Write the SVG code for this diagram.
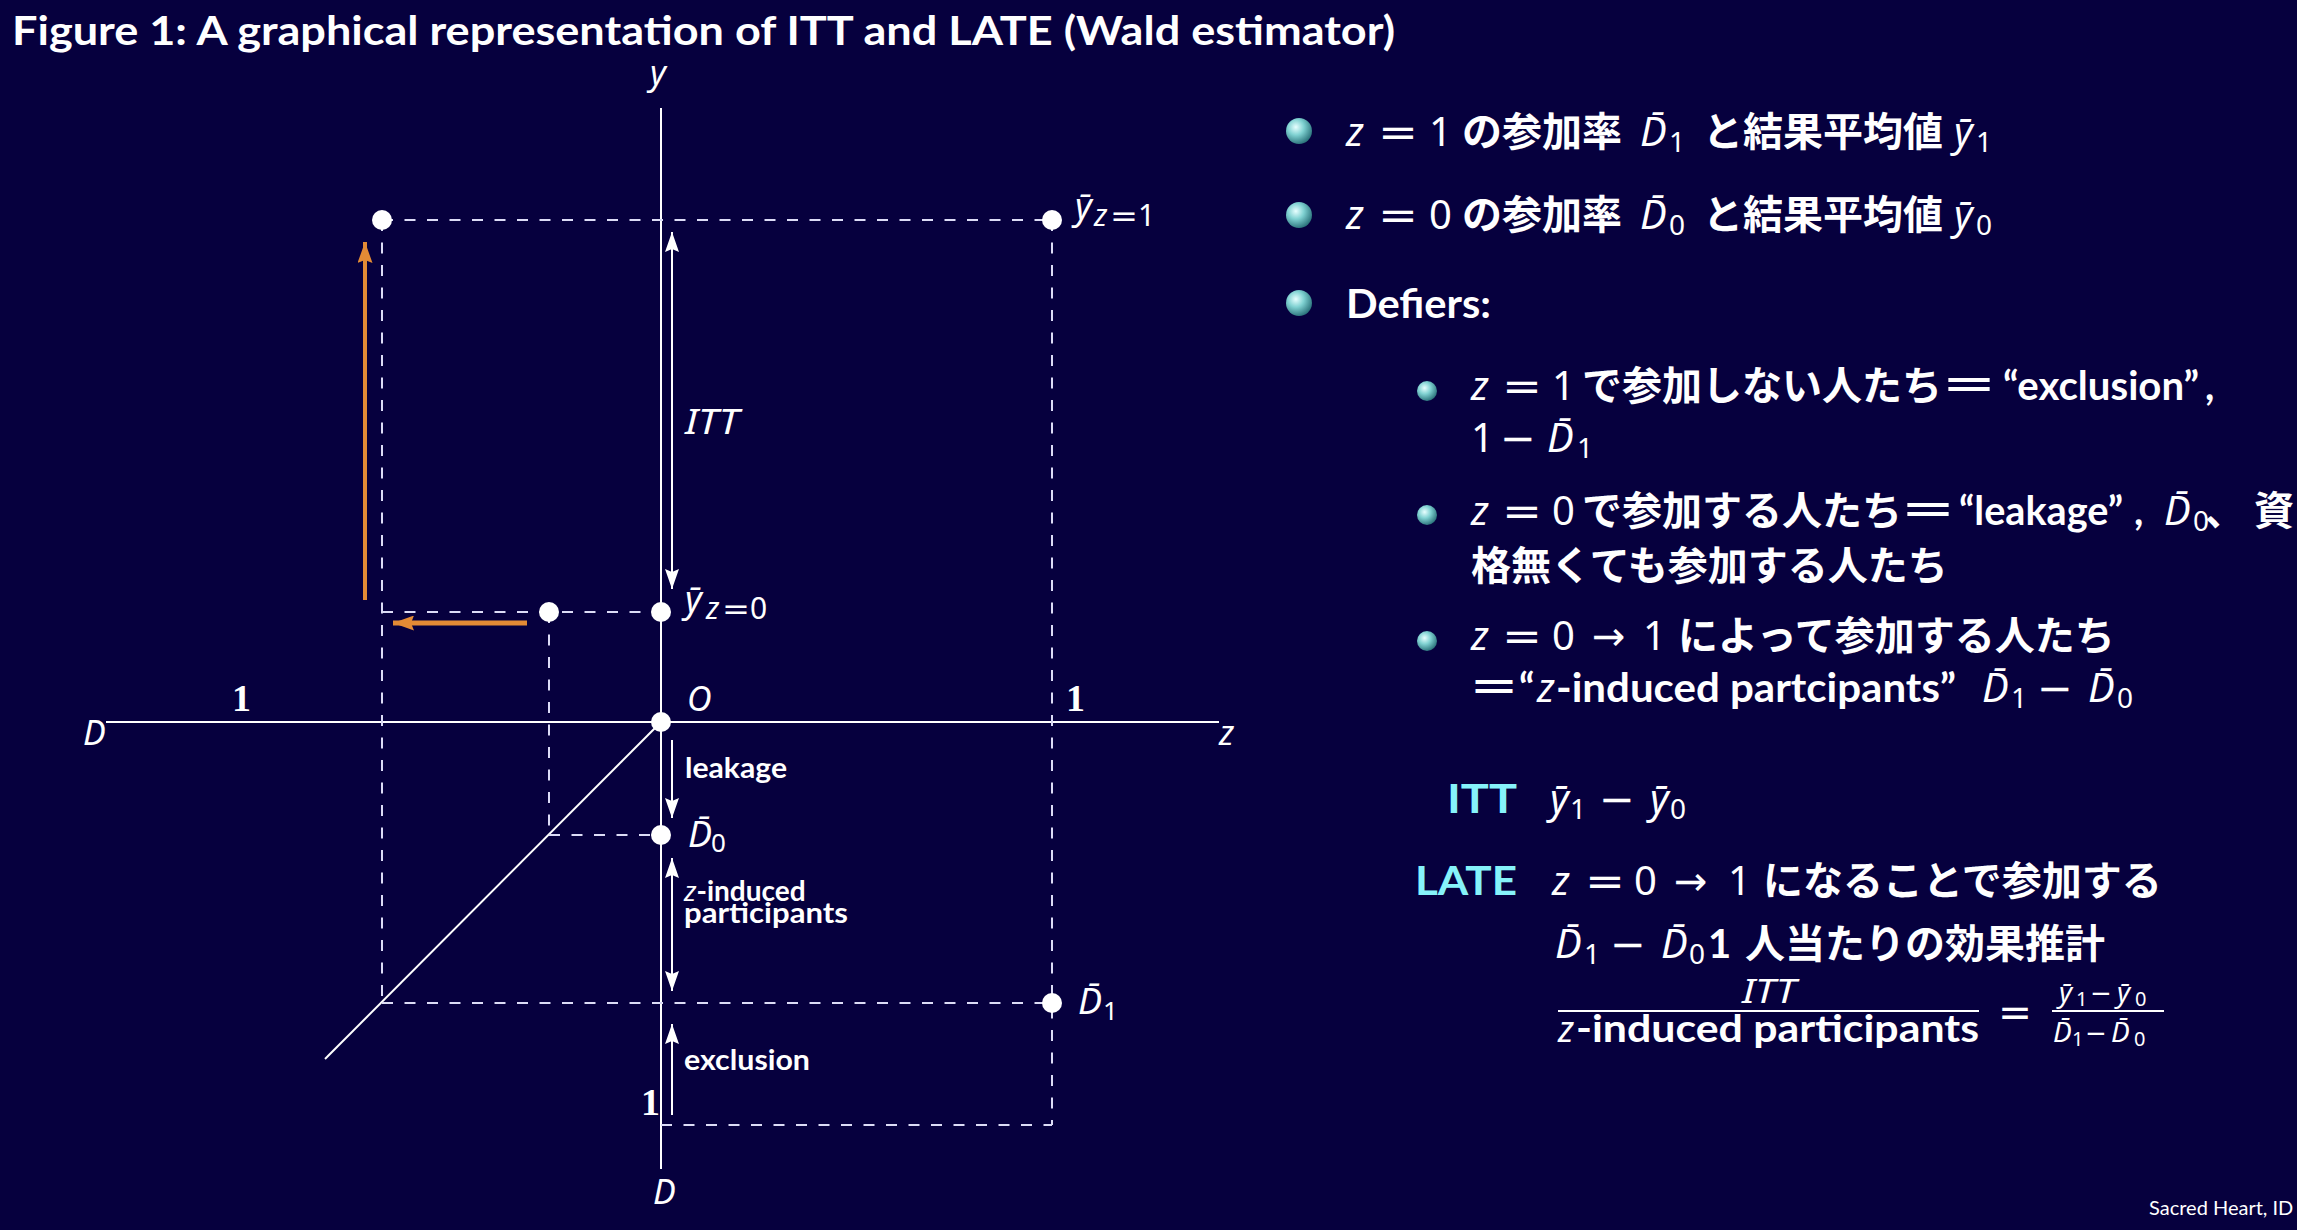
<svg xmlns="http://www.w3.org/2000/svg" width="2297" height="1230" viewBox="0 0 2297 1230">
<defs>
<radialGradient id="ball" cx="0.38" cy="0.35" r="0.68">
<stop offset="0" stop-color="#e8ffff"/>
<stop offset="0.45" stop-color="#80d2d2"/>
<stop offset="1" stop-color="#2a727a"/>
</radialGradient>
<marker id="ah" viewBox="0 0 20 14" refX="20" refY="7" markerWidth="20" markerHeight="14" markerUnits="userSpaceOnUse" orient="auto-start-reverse"><path d="M0,0 L20,7 L0,14 L3,7 z" fill="#fff"/></marker>
<marker id="oh" viewBox="0 0 21 15" refX="21" refY="7.5" markerWidth="21" markerHeight="15" markerUnits="userSpaceOnUse" orient="auto"><path d="M0,0 L21,7.5 L0,15 L3,7.5 z" fill="#e38b35"/></marker>
<style>
.ax{stroke:#fff;stroke-width:2;fill:none}
.dash{stroke:#dcdcf6;stroke-width:2;stroke-dasharray:11 11.5;fill:none}
.arr{stroke:#fff;stroke-width:2;fill:none}
.or{stroke:#e38b35;fill:none}
.dot{fill:#fff}
text{fill:#fff}
.mi{font-family:"Noto Sans","DejaVu Sans",sans-serif;font-style:italic}
.mr{font-family:"Noto Sans","DejaVu Sans",sans-serif}
.ar{font-family:"DejaVu Sans",sans-serif}
.b{font-family:Lato,"Liberation Sans",sans-serif;font-weight:700}
.rg{font-family:Lato,"Liberation Sans",sans-serif}
.j{font-family:"Noto Sans CJK JP",sans-serif;font-weight:700}
.one{font-family:"Liberation Serif",serif;font-weight:700}
.cy{fill:#86f3fa}
.t40{font-size:40px}
.s28{font-size:28px}
</style>
</defs>
<rect width="2297" height="1230" fill="#06003e"/>

<text id="title" class="b" x="12" y="45" font-size="41" textLength="1383" lengthAdjust="spacingAndGlyphs">Figure 1: A graphical representation of ITT and LATE (Wald estimator)</text>

<g id="axes">
<line class="ax" x1="661" y1="108" x2="661" y2="1169"/>
<line class="ax" x1="106" y1="722" x2="1219" y2="722"/>
<line class="ax" x1="661" y1="722" x2="325" y2="1059"/>
<text class="mi" x="650" y="85" font-size="34">y</text>
<text class="mi" x="83" y="745" font-size="34">D</text>
<text class="mi" x="1219" y="745" font-size="34">z</text>
<text class="mi" x="653" y="1204" font-size="34">D</text>
<text class="mi" x="687" y="711" font-size="34">O</text>
<text class="one" x="232" y="711" font-size="38">1</text>
<text class="one" x="1066" y="711" font-size="38">1</text>
<text class="one" x="641" y="1115" font-size="38">1</text>
</g>

<g id="connectors">
<g id="guides">
<line class="dash" x1="382" y1="220" x2="1052" y2="220"/>
<line class="dash" x1="382" y1="220" x2="382" y2="1003"/>
<line class="dash" x1="1052" y1="220" x2="1052" y2="1125"/>
<line class="dash" x1="382" y1="612" x2="661" y2="612"/>
<line class="dash" x1="549" y1="612" x2="549" y2="835"/>
<line class="dash" x1="549" y1="835" x2="661" y2="835"/>
<line class="dash" x1="382" y1="1003" x2="1052" y2="1003"/>
<line class="dash" x1="661" y1="1125" x2="1052" y2="1125"/>
</g>
<line id="itt-arrow" class="arr" x1="672" y1="232" x2="672" y2="589" marker-start="url(#ah)" marker-end="url(#ah)"/>
<line id="leak-arrow" class="arr" x1="672" y1="740" x2="672" y2="818" marker-end="url(#ah)"/>
<line id="zind-arrow" class="arr" x1="672" y1="858" x2="672" y2="991" marker-start="url(#ah)" marker-end="url(#ah)"/>
<line id="excl-arrow" class="arr" x1="672" y1="1115" x2="672" y2="1024" marker-end="url(#ah)"/>
<line id="orange-up" class="or" stroke-width="4" x1="365" y1="600" x2="365" y2="242" marker-end="url(#oh)"/>
<line id="orange-left" class="or" stroke-width="5" x1="527" y1="623" x2="393" y2="623" marker-end="url(#oh)"/>
</g>

<g id="arrow-labels">
<text class="mi" x="685" y="434" font-size="34" textLength="54" lengthAdjust="spacingAndGlyphs">ITT</text>
<text class="b" x="685" y="778" font-size="29" textLength="102" lengthAdjust="spacingAndGlyphs">leakage</text>
<text x="684" y="901" font-size="28"><tspan class="mi">z</tspan><tspan class="b">-induced</tspan></text>
<text class="b" x="684" y="923" font-size="29" textLength="164" lengthAdjust="spacingAndGlyphs">participants</text>
<text class="b" x="684" y="1070" font-size="29" textLength="126" lengthAdjust="spacingAndGlyphs">exclusion</text>
</g>

<g id="node-tl"><circle class="dot" cx="382" cy="220" r="10"/></g>
<g id="node-y1">
<circle class="dot" cx="1052" cy="220" r="10"/>
<text class="mi" x="1075" y="219" font-size="36">ȳ</text>
<text class="mi" x="1094" y="226" font-size="30">z</text>
<text class="ar" x="1110" y="226" font-size="30" textLength="28" lengthAdjust="spacingAndGlyphs">=</text>
<text class="mr" x="1138" y="226" font-size="30">1</text>
</g>
<g id="node-mid"><circle class="dot" cx="549" cy="612" r="10"/></g>
<g id="node-y0">
<circle class="dot" cx="661" cy="612" r="10"/>
<text class="mi" x="685" y="612" font-size="36">ȳ</text>
<text class="mi" x="706" y="619" font-size="30">z</text>
<text class="ar" x="722" y="619" font-size="30" textLength="28" lengthAdjust="spacingAndGlyphs">=</text>
<text class="mr" x="750" y="619" font-size="30">0</text>
</g>
<g id="node-origin"><circle class="dot" cx="661" cy="722" r="10"/></g>
<g id="node-D0">
<circle class="dot" cx="661" cy="835" r="10"/>
<text class="mi" x="688" y="847" font-size="36">D̄</text>
<text class="mr" x="711" y="852" font-size="26">0</text>
</g>
<g id="node-D1">
<circle class="dot" cx="1052" cy="1003" r="10"/>
<text class="mi" x="1078" y="1014" font-size="36">D̄</text>
<text class="mr" x="1103" y="1020" font-size="26">1</text>
</g>

<g id="bullets">
<circle cx="1299" cy="131" r="13" fill="url(#ball)"/>
<circle cx="1299" cy="215" r="13" fill="url(#ball)"/>
<circle cx="1299" cy="303" r="13" fill="url(#ball)"/>
<circle cx="1427" cy="391" r="10" fill="url(#ball)"/>
<circle cx="1427" cy="515" r="10" fill="url(#ball)"/>
<circle cx="1427" cy="641" r="10" fill="url(#ball)"/>
</g>

<g id="bullet1" class="t40">
<text class="mi" x="1346" y="146">z</text>
<text class="ar" x="1378" y="146" textLength="40" lengthAdjust="spacingAndGlyphs">=</text>
<text class="mr" x="1429" y="146">1</text>
<text class="j" x="1462" y="146">の参加率</text>
<text class="mi" x="1640" y="146">D̄</text>
<text class="mr s28" x="1669" y="152">1</text>
<text class="j" x="1703" y="146">と結果平均値</text>
<text class="mi" x="1954" y="146">ȳ</text>
<text class="mr s28" x="1976" y="152">1</text>
</g>
<g id="bullet2" class="t40">
<text class="mi" x="1346" y="229">z</text>
<text class="ar" x="1378" y="229" textLength="40" lengthAdjust="spacingAndGlyphs">=</text>
<text class="mr" x="1429" y="229">0</text>
<text class="j" x="1462" y="229">の参加率</text>
<text class="mi" x="1640" y="229">D̄</text>
<text class="mr s28" x="1669" y="235">0</text>
<text class="j" x="1703" y="229">と結果平均値</text>
<text class="mi" x="1954" y="229">ȳ</text>
<text class="mr s28" x="1976" y="235">0</text>
</g>
<g id="bullet3" class="t40">
<text class="b" x="1346" y="318" textLength="145" lengthAdjust="spacingAndGlyphs">Defiers:</text>
</g>

<g id="sub1" class="t40">
<text class="mi" x="1471" y="400">z</text>
<text class="ar" x="1502" y="400" textLength="40" lengthAdjust="spacingAndGlyphs">=</text>
<text class="mr" x="1552" y="400">1</text>
<text class="j" x="1582" y="400">で参加しない人たち</text>
<text class="j" x="1940" y="400" textLength="58" lengthAdjust="spacingAndGlyphs">＝</text>
<text class="b" x="2003" y="400" textLength="196" lengthAdjust="spacingAndGlyphs">“exclusion”</text>
<text class="b" x="2205" y="400">,</text>
<text class="mr" x="1471" y="452">1</text>
<text class="ar" x="1500" y="452" textLength="36" lengthAdjust="spacingAndGlyphs">−</text>
<text class="mi" x="1547" y="452">D̄</text>
<text class="mr s28" x="1577" y="458">1</text>
</g>
<g id="sub2" class="t40">
<text class="mi" x="1471" y="525">z</text>
<text class="ar" x="1502" y="525" textLength="40" lengthAdjust="spacingAndGlyphs">=</text>
<text class="mr" x="1552" y="525">0</text>
<text class="j" x="1582" y="525">で参加する人たち</text>
<text class="j" x="1899" y="525" textLength="58" lengthAdjust="spacingAndGlyphs">＝</text>
<text class="b" x="1959" y="525" textLength="164" lengthAdjust="spacingAndGlyphs">“leakage”</text>
<text class="b" x="2134" y="525">,</text>
<text class="mi" x="2164" y="525">D̄</text>
<text class="mr s28" x="2193" y="531">0</text>
<text class="j" x="2205" y="525">、</text>
<text class="j" x="2254" y="525">資</text>
<text class="j" x="1471" y="580">格無くても参加する人たち</text>
</g>
<g id="sub3" class="t40">
<text class="mi" x="1471" y="650">z</text>
<text class="ar" x="1502" y="650" textLength="40" lengthAdjust="spacingAndGlyphs">=</text>
<text class="mr" x="1552" y="650">0</text>
<text class="ar" x="1592" y="650">→</text>
<text class="mr" x="1643" y="650">1</text>
<text class="j" x="1678" y="650">によって参加する人たち</text>
<text class="j" x="1468" y="702" textLength="52" lengthAdjust="spacingAndGlyphs">＝</text>
<text class="b" x="1519" y="702">“</text>
<text class="mi" x="1537" y="702">z</text>
<text class="b" x="1556" y="702" textLength="400" lengthAdjust="spacingAndGlyphs">-induced partcipants”</text>
<text class="mi" x="1982" y="702">D̄</text>
<text class="mr s28" x="2011" y="708">1</text>
<text class="ar" x="2037" y="702" textLength="36" lengthAdjust="spacingAndGlyphs">−</text>
<text class="mi" x="2088" y="702">D̄</text>
<text class="mr s28" x="2117" y="708">0</text>
</g>

<g id="itt-def" class="t40">
<text class="b cy" x="1447" y="813" font-size="40" textLength="70" lengthAdjust="spacingAndGlyphs">ITT</text>
<text class="mi" x="1550" y="813">ȳ</text>
<text class="mr s28" x="1570" y="819">1</text>
<text class="ar" x="1599" y="813" textLength="36" lengthAdjust="spacingAndGlyphs">−</text>
<text class="mi" x="1650" y="813">ȳ</text>
<text class="mr s28" x="1670" y="819">0</text>
</g>
<g id="late-def" class="t40">
<text class="b cy" x="1415" y="895" font-size="40" textLength="102" lengthAdjust="spacingAndGlyphs">LATE</text>
<text class="mi" x="1552" y="895">z</text>
<text class="ar" x="1585" y="895" textLength="40" lengthAdjust="spacingAndGlyphs">=</text>
<text class="mr" x="1634" y="895">0</text>
<text class="ar" x="1674" y="895">→</text>
<text class="mr" x="1728" y="895">1</text>
<text class="j" x="1763" y="895">になることで参加する</text>
<text class="mi" x="1555" y="958">D̄</text>
<text class="mr s28" x="1584" y="964">1</text>
<text class="ar" x="1610" y="958" textLength="36" lengthAdjust="spacingAndGlyphs">−</text>
<text class="mi" x="1661" y="958">D̄</text>
<text class="mr s28" x="1689" y="964">0</text>
<text class="b" x="1708" y="958">1</text>
<text class="j" x="1745" y="958">人当たりの効果推計</text>
</g>
<g id="fraction">
<text class="mi" x="1742" y="1003" font-size="33" textLength="54" lengthAdjust="spacingAndGlyphs">ITT</text>
<line x1="1558" y1="1011" x2="1979" y2="1011" stroke="#fff" stroke-width="2"/>
<text class="mi" x="1558" y="1042" font-size="36">z</text>
<text class="b" x="1576" y="1042" font-size="38" textLength="403" lengthAdjust="spacingAndGlyphs">-induced participants</text>
<text class="ar" x="1998" y="1026" font-size="40" textLength="34" lengthAdjust="spacingAndGlyphs">=</text>
<text class="mi" x="2059" y="1002" font-size="28">ȳ</text>
<text class="mr" x="2076" y="1006" font-size="20">1</text>
<text class="ar" x="2090" y="1002" font-size="26">−</text>
<text class="mi" x="2117" y="1002" font-size="28">ȳ</text>
<text class="mr" x="2135" y="1006" font-size="20">0</text>
<line x1="2052" y1="1011" x2="2164" y2="1011" stroke="#fff" stroke-width="2"/>
<text class="mi" x="2053" y="1042" font-size="28">D̄</text>
<text class="mr" x="2072" y="1046" font-size="20">1</text>
<text class="ar" x="2085" y="1042" font-size="26">−</text>
<text class="mi" x="2111" y="1042" font-size="28">D̄</text>
<text class="mr" x="2134" y="1046" font-size="20">0</text>
</g>

<text id="footer" class="rg" x="2149" y="1215" font-size="20">Sacred Heart, ID</text>
</svg>
